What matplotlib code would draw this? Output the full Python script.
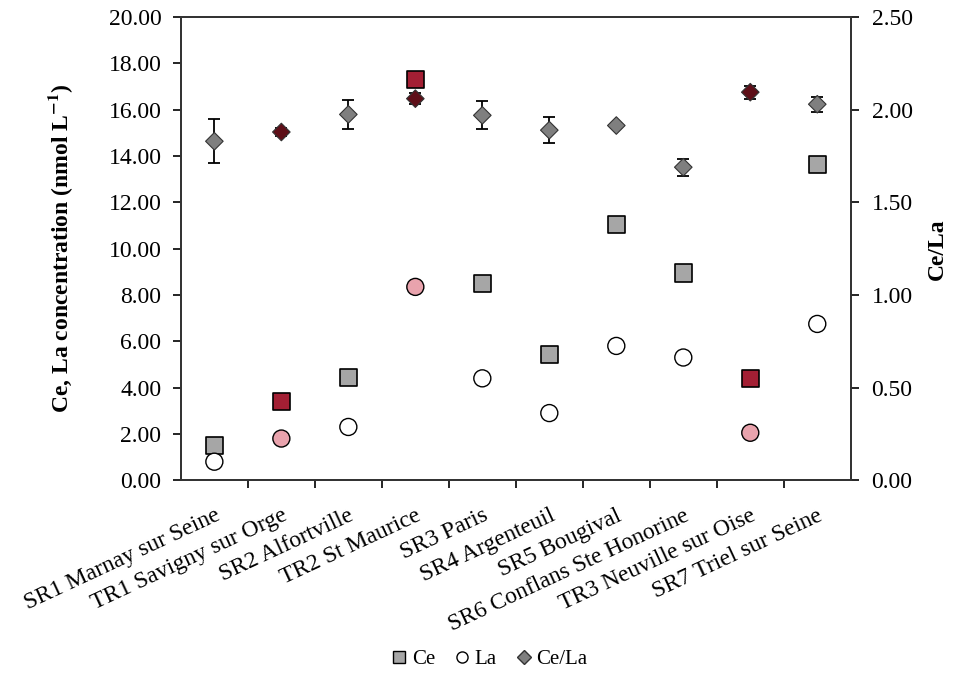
import matplotlib
matplotlib.use("Agg")
import matplotlib.pyplot as plt
from matplotlib.lines import Line2D

plt.rcParams['font.family'] = ['Liberation Serif', 'DejaVu Serif']
plt.rcParams['mathtext.fontset'] = 'stix'

sites = ['SR1 Marnay sur Seine', 'TR1 Savigny sur Orge', 'SR2 Alfortville',
         'TR2 St Maurice', 'SR3 Paris', 'SR4 Argenteuil', 'SR5 Bougival',
         'SR6 Conflans Ste Honorine', 'TR3 Neuville sur Oise', 'SR7 Triel sur Seine']
ce = [1.50, 3.40, 4.45, 17.30, 8.50, 5.45, 11.05, 8.95, 4.40, 13.65]
la = [0.80, 1.80, 2.30, 8.35, 4.40, 2.90, 5.80, 5.30, 2.05, 6.75]
ratio = [1.83, 1.88, 1.975, 2.06, 1.97, 1.89, 1.915, 1.69, 2.095, 2.03]
ratio_err = [0.12, 0.02, 0.08, 0.03, 0.075, 0.07, 0.015, 0.045, 0.035, 0.04]
tributary = [False, True, False, True, False, False, False, False, True, False]

ce_col = ['#A31F34' if t else '#A6A6A6' for t in tributary]
la_col = ['#E9A3AD' if t else 'white' for t in tributary]
ra_col = ['#5E0F18' if t else '#7F7F7F' for t in tributary]

x = list(range(len(sites)))

fig = plt.figure(figsize=(9.57, 6.87), dpi=100)
ax = fig.add_axes([0.189, 0.301, 0.700, 0.674])
ax2 = ax.twinx()

ax.scatter(x, ce, marker='s', s=150, c=ce_col, edgecolors='black', linewidths=1.2, zorder=3)
ax.scatter(x, la, marker='o', s=150, c=la_col, edgecolors='black', linewidths=1.0, zorder=3)
ax2.errorbar(x, ratio, yerr=ratio_err, fmt='none', ecolor='black', elinewidth=1.3,
             capsize=4, capthick=1.3, zorder=2)
ax2.scatter(x, ratio, marker='D', s=80, c=ra_col, edgecolors='#333333', linewidths=0.8, zorder=3)

ax.set_xlim(-0.5, len(sites) - 0.5)
ax.set_ylim(0, 20)
ax2.set_ylim(0, 2.5)
ax.set_yticks([0, 2, 4, 6, 8, 10, 12, 14, 16, 18, 20])
ax.set_yticklabels(['%.2f' % v for v in ax.get_yticks()])
ax2.set_yticks([0, 0.5, 1.0, 1.5, 2.0, 2.5])
ax2.set_yticklabels(['%.2f' % v for v in ax2.get_yticks()])

ax.set_xticks([i + 0.5 for i in x[:-1]])
ax.set_xticklabels([])
ax.set_xticks(x, minor=True)
ax.set_xticklabels(sites, minor=True, rotation=25, ha='right', va='top',
                   rotation_mode='anchor', fontsize=17)
ax.tick_params(axis='x', which='minor', length=0, pad=18)
ax.tick_params(axis='x', which='major', direction='out', length=6, width=1.2)
ax.tick_params(axis='y', labelsize=17, direction='out', length=6, width=1.2, pad=8)
ax2.tick_params(axis='y', labelsize=17, direction='out', length=6, width=1.2, pad=9)

for a in (ax, ax2):
    for sp in a.spines.values():
        sp.set_linewidth(1.3)
        sp.set_color('#333333')

ax.set_ylabel('Ce, La concentration (nmol L$^{\\mathbf{-1}}$)', fontsize=17,
              fontweight='bold', labelpad=24)
ax2.set_ylabel('Ce/La', fontsize=17, fontweight='bold', labelpad=10)

handles = [Line2D([], [], marker='s', ls='', mfc='#A6A6A6', mec='black', ms=8),
           Line2D([], [], marker='o', ls='', mfc='white', mec='black', ms=8),
           Line2D([], [], marker='D', ls='', mfc='#7F7F7F', mec='#333333', ms=7)]
fig.legend(handles, ['Ce', 'La', 'Ce/La'], loc='center', bbox_to_anchor=(0.51, 0.04),
           ncol=3, frameon=False, fontsize=15, handletextpad=0.1, columnspacing=0.8,
           handlelength=1.0)

fig.savefig('out.png', dpi=100)
